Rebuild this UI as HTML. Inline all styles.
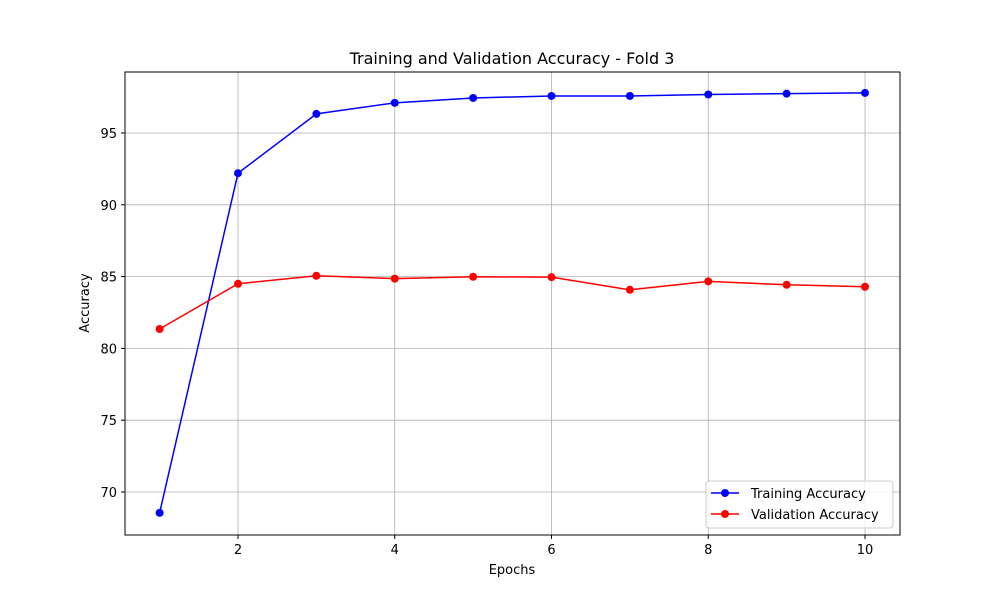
<!DOCTYPE html>
<html><head><meta charset="utf-8"><style>
body{margin:0;background:#fff;font-family:"Liberation Sans","DejaVu Sans",sans-serif;}
svg text{font-family:"DejaVu Sans","Liberation Sans",sans-serif;}
</style></head><body>
<svg id="chart" width="1000" height="600" xmlns="http://www.w3.org/2000/svg">
<rect width="1000" height="600" fill="#fff"/>
<text x="512" y="64" font-size="16" text-anchor="middle">Training and Validation Accuracy - Fold 3</text>
<g id="grid"></g>
<g id="ticks"></g>
<rect x="125" y="72" width="775" height="463" fill="none" stroke="#000" stroke-width="1"/>
<g id="series"></g>
<text x="512" y="574" font-size="13" text-anchor="middle">Epochs</text>
<text x="89" y="303" font-size="13" text-anchor="middle" transform="rotate(-90 89 303)">Accuracy</text>
<g>
<rect x="706" y="481" width="187" height="47" rx="3" fill="#fff" fill-opacity="0.8" stroke="#ccc"/>
<g>
<line x1="711" y1="493" x2="739" y2="493" stroke="blue" stroke-width="1.5"/><circle cx="725" cy="493" r="4" fill="blue"/>
<text x="751" y="498" font-size="13">Training Accuracy</text></g>
<g>
<line x1="711" y1="514" x2="739" y2="514" stroke="red" stroke-width="1.5"/><circle cx="725" cy="514" r="4" fill="red"/>
<text x="751" y="519" font-size="13">Validation Accuracy</text></g>
</g>
</svg>
<script>
const epochs=[1,2,3,4,5,6,7,8,9,10];
const trainAcc=[68.55,92.2,96.33,97.1,97.44,97.58,97.58,97.68,97.74,97.79];
const valAcc=[81.35,84.5,85.06,84.86,84.99,84.96,84.08,84.67,84.43,84.29];
const xTicks=[2,4,6,8,10];
const yTicks=[70,75,80,85,90,95];
const NS="http://www.w3.org/2000/svg";
const X=v=>238+(v-2)*78.375;
const Y=v=>492-(v-70)*14.36;
function mk(tag,attrs,parent){const e=document.createElementNS(NS,tag);for(const k in attrs)e.setAttribute(k,attrs[k]);parent.appendChild(e);return e;}
const grid=document.getElementById('grid'),ticks=document.getElementById('ticks'),series=document.getElementById('series');
xTicks.forEach(t=>{
 const l=mk('line',{x1:X(t),x2:X(t),y1:72,y2:535,stroke:'#b0b0b0','stroke-width':0.8},grid);
 
 
 mk('line',{x1:X(t),x2:X(t),y1:535,y2:539,stroke:'#000'},ticks);
 const tx=mk('text',{x:X(t),y:554,'font-size':13,'text-anchor':'middle'},ticks);tx.textContent=t;
 
 
});
yTicks.forEach(t=>{
 const l=mk('line',{x1:125,x2:900,y1:Y(t),y2:Y(t),stroke:'#b0b0b0','stroke-width':0.8},grid);
 
 
 mk('line',{x1:121,x2:125,y1:Y(t),y2:Y(t),stroke:'#000'},ticks);
 const tx=mk('text',{x:117,y:Y(t)+5,'font-size':13,'text-anchor':'end'},ticks);tx.textContent=t;
 
 
});
function draw(vals,color,name){
 const p=mk('polyline',{points:vals.map((v,i)=>X(epochs[i])+','+Y(v)).join(' '),fill:'none',stroke:color,'stroke-width':1.5},series);
 
 
 vals.forEach((v,i)=>{const c=mk('circle',{cx:X(epochs[i]),cy:Y(v),r:4,fill:color},series);
 
 });
}
draw(trainAcc,'blue','training-accuracy');
draw(valAcc,'red','validation-accuracy');
</script>
</body></html>
